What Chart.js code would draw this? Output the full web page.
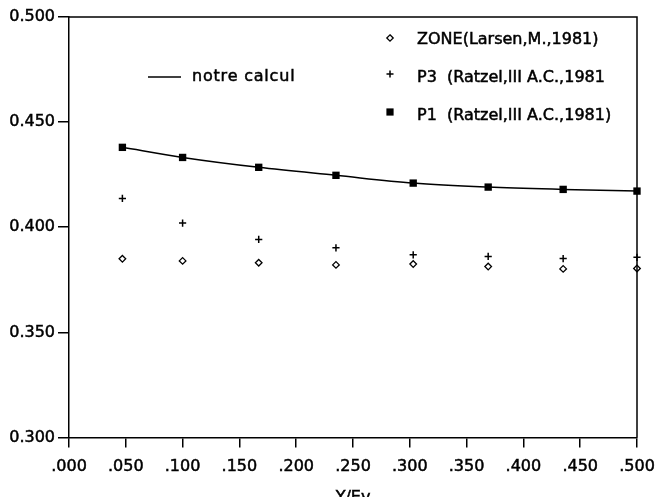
<!DOCTYPE html>
<html>
<head>
<meta charset="utf-8">
<script src="https://cdn.jsdelivr.net/npm/chart.js@4"></script>
<style>
  html, body { margin: 0; padding: 0; background: #fff; }
  #wrap { width: 657px; height: 497px; }
</style>
</head>
<body>
<div id="wrap"><canvas id="c" width="657" height="497"></canvas></div>
<script>
// ---- data ----
const xValues    = [0.047, 0.100, 0.167, 0.235, 0.303, 0.369, 0.435, 0.500];
const calcValues = [0.4380, 0.4332, 0.4285, 0.4247, 0.4210, 0.4191, 0.4180, 0.4172];
const p1Values   = [0.4380, 0.4332, 0.4285, 0.4247, 0.4210, 0.4191, 0.4180, 0.4172];
const p3Values   = [0.4137, 0.4020, 0.3942, 0.3902, 0.3869, 0.3861, 0.3851, 0.3857];
const zoneValues = [0.3850, 0.3840, 0.3831, 0.3821, 0.3825, 0.3813, 0.3802, 0.3804];
const xTicks = [0, 0.05, 0.10, 0.15, 0.20, 0.25, 0.30, 0.35, 0.40, 0.45, 0.50];
const yTicks = [0.30, 0.35, 0.40, 0.45, 0.50];
const xTitle = 'Y/Ev';
const legendLabels = {
  calc: 'notre calcul',
  zone: 'ZONE(Larsen,M.,1981)',
  p3: 'P3  (Ratzel,III A.C.,1981',
  p1: 'P1  (Ratzel,III A.C.,1981)'
};

const pts = (ys) => xValues.map((x, i) => ({ x: x, y: ys[i] }));
const FONT = '"DejaVu Sans", sans-serif';

function txt(ctx, s, x, y) {
  ctx.fillText(s, x, y);
  ctx.strokeText(s, x, y);
}

const framePlugin = {
  id: 'frame',
  afterDraw(chart) {
    const ctx = chart.ctx, a = chart.chartArea;
    ctx.save();
    ctx.strokeStyle = '#000';
    ctx.lineWidth = 1.5;
    ctx.beginPath();
    ctx.moveTo(a.left, a.top);
    ctx.lineTo(a.right, a.top);
    ctx.lineTo(a.right, a.bottom);
    ctx.stroke();

    ctx.fillStyle = '#000';
    ctx.font = '16px ' + FONT;
    ctx.textBaseline = 'alphabetic';

    // axis title
    ctx.lineWidth = 0.5;
    ctx.textAlign = 'center';
    txt(ctx, xTitle, (a.left + a.right) / 2, a.bottom + 64);

    // legend
    ctx.textAlign = 'left';
    ctx.lineWidth = 1.5;
    ctx.beginPath();
    ctx.moveTo(a.left + 79, a.top + 60);
    ctx.lineTo(a.left + 112, a.top + 60);
    ctx.stroke();
    ctx.lineWidth = 0.5;
    ctx.letterSpacing = '0.8px';
    txt(ctx, legendLabels.calc, a.left + 123, a.top + 64);
    ctx.letterSpacing = '0px';

    const mx = a.left + 321, tx = a.left + 348;
    // diamond
    const dy = a.top + 21;
    ctx.lineWidth = 1.3;
    ctx.beginPath();
    ctx.moveTo(mx, dy - 3.2); ctx.lineTo(mx + 3.2, dy); ctx.lineTo(mx, dy + 3.2); ctx.lineTo(mx - 3.2, dy); ctx.closePath();
    ctx.stroke();
    ctx.lineWidth = 0.5;
    txt(ctx, legendLabels.zone, tx, a.top + 26.5);
    // plus
    const py = a.top + 57;
    ctx.lineWidth = 1.5;
    ctx.beginPath();
    ctx.moveTo(mx - 3.5, py); ctx.lineTo(mx + 3.5, py);
    ctx.moveTo(mx, py - 3.5); ctx.lineTo(mx, py + 3.5);
    ctx.stroke();
    ctx.lineWidth = 0.5;
    txt(ctx, legendLabels.p3, tx, a.top + 64.7);
    // square
    const sy = a.top + 95;
    ctx.fillRect(mx - 3.6, sy - 3.6, 7.2, 7.2);
    txt(ctx, legendLabels.p1, tx, a.top + 103);
    ctx.restore();
  }
};

new Chart(document.getElementById('c'), {
  type: 'scatter',
  data: {
    datasets: [
      {
        label: legendLabels.calc,
        data: pts(calcValues),
        showLine: true,
        borderColor: '#000',
        borderWidth: 1.5,
        pointRadius: 0,
        cubicInterpolationMode: 'monotone',
        clip: false
      },
      {
        label: legendLabels.p1,
        data: pts(p1Values),
        pointStyle: 'rect',
        pointRadius: 5.2,
        backgroundColor: '#000',
        borderColor: '#000',
        borderWidth: 0,
        clip: false
      },
      {
        label: legendLabels.p3,
        data: pts(p3Values),
        pointStyle: 'cross',
        pointRadius: 3.6,
        borderColor: '#000',
        borderWidth: 1.5,
        clip: false
      },
      {
        label: legendLabels.zone,
        data: pts(zoneValues),
        pointStyle: 'rectRot',
        pointRadius: 3.3,
        backgroundColor: '#fff',
        borderColor: '#000',
        borderWidth: 1.3,
        clip: false
      }
    ]
  },
  options: {
    responsive: false,
    animation: false,
    events: [],
    layout: { padding: { left: 0, right: 20, top: 17, bottom: 0 } },
    plugins: { legend: { display: false }, tooltip: { enabled: false } },
    scales: {
      x: {
        type: 'linear',
        min: 0, max: 0.5,
        afterFit(s) { s.height = 59.5; s.paddingLeft = 0; s.paddingRight = 0; },
        afterBuildTicks(s) { s.ticks = xTicks.map(v => ({ value: v })); },
        ticks: {
          color: '#000',
          font: { family: FONT, size: 16 },
          textStrokeColor: '#000',
          textStrokeWidth: 0.5,
          padding: 10,
          maxRotation: 0,
          autoSkip: false,
          callback: (v) => Number(v).toFixed(3).replace(/^0/, '')
        },
        grid: { drawOnChartArea: false, color: '#000', lineWidth: 1.5, tickLength: 10 },
        border: { display: true, color: '#000', width: 1.5 }
      },
      y: {
        type: 'linear',
        min: 0.3, max: 0.5,
        afterFit(s) { s.width = 69; s.paddingTop = 0; s.paddingBottom = 0; },
        afterBuildTicks(s) { s.ticks = yTicks.map(v => ({ value: v })); },
        ticks: {
          color: '#000',
          font: { family: FONT, size: 16 },
          textStrokeColor: '#000',
          textStrokeWidth: 0.5,
          padding: 3,
          autoSkip: false,
          callback: (v) => Number(v).toFixed(3)
        },
        grid: { drawOnChartArea: false, color: '#000', lineWidth: 1.5, tickLength: 11 },
        border: { display: true, color: '#000', width: 1.5 }
      }
    }
  },
  plugins: [framePlugin]
});
</script>
</body>
</html>
